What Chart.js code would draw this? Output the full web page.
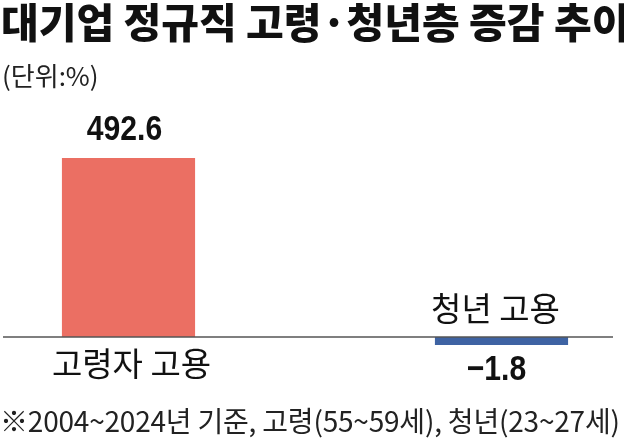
<!DOCTYPE html>
<html>
<head>
<meta charset="utf-8">
<script src="https://cdn.jsdelivr.net/npm/chart.js@4/dist/chart.umd.min.js"></script>
<style>
  html, body { margin: 0; padding: 0; background: #fff; }
  body { width: 624px; height: 440px; position: relative; overflow: hidden; font-family: "Noto Sans CJK KR", sans-serif; }
  #title { position: absolute; left: 1px; top: -10px; font-size: 41px; font-weight: 900; color: #111; white-space: nowrap; letter-spacing: 0px; }
  #unit { position: absolute; left: 2px; top: 56px; font-size: 26px; color: #222; white-space: nowrap; }
  #note { position: absolute; left: 0px; top: 400px; font-size: 28px; color: #222; white-space: nowrap; letter-spacing: -0.2px; }
  #chart { position: absolute; left: -58px; top: 0; }
</style>
</head>
<body>
<canvas id="chart" width="746" height="440"></canvas>
<div id="title">대기업 정규직 고령·청년층 증감 추이</div>
<div id="unit">(단위:%)</div>
<div id="note">※2004~2024년 기준, 고령(55~59세), 청년(23~27세)</div>
<script>
var categories = ['고령자 고용', '청년 고용'];
var changes = [492.6, -1.8];
var barColors = ['#EB6F63', '#3E63A3'];

function numText(ctx, txt, x, y) {
  ctx.save();
  ctx.translate(x, y);
  ctx.scale(0.86, 1);
  ctx.font = 'bold 35px "Liberation Sans", Arial, sans-serif';
  ctx.fillText(txt, 0, 0);
  ctx.restore();
}

// labels: value + category, placed by the sign of the bar
var labelPlugin = {
  id: 'barLabels',
  afterDatasetsDraw: function(chart) {
    var ctx = chart.ctx;
    var meta = chart.getDatasetMeta(0);
    ctx.save();
    ctx.textAlign = 'center';
    ctx.textBaseline = 'middle';
    ctx.fillStyle = '#111';
    meta.data.forEach(function(bar, i) {
      var v = changes[i];
      var top = Math.min(bar.y, bar.base);
      var bottom = Math.max(bar.y, bar.base);
      var txt = v.toFixed(1).replace('-', '\u2212');
      ctx.font = '33px "Noto Sans CJK KR", sans-serif';
      if (v >= 0) {
        numText(ctx, txt, bar.x - 4, top - 28);
        ctx.fillText(categories[i], bar.x + 3, bar.base + 26);
      } else {
        ctx.fillText(categories[i], bar.x - 6, bar.base - 29);
        numText(ctx, txt, bar.x - 5, bottom + 25);
      }
    });
    // zero line
    var y0 = chart.scales.y.getPixelForValue(0);
    ctx.strokeStyle = '#555';
    ctx.lineWidth = 1.5;
    ctx.beginPath();
    ctx.moveTo(61, y0);
    ctx.lineTo(671, y0);
    ctx.stroke();
    ctx.restore();
  }
};

var chart = new Chart(document.getElementById('chart'), {
  type: 'bar',
  data: {
    labels: categories,
    datasets: [{
      data: changes,
      backgroundColor: barColors,
      borderWidth: 0,
      minBarLength: 8,
      categoryPercentage: 1,
      barPercentage: 0.357
    }]
  },
  options: {
    responsive: false,
    animation: false,
    layout: { padding: { top: 158, bottom: 85, left: 0, right: 0 } },
    plugins: { legend: { display: false }, tooltip: { enabled: false } },
    scales: {
      x: { display: false },
      y: { display: false, min: -49.5, max: 492.6 }
    }
  },
  plugins: [labelPlugin]
});
</script>
</body>
</html>
